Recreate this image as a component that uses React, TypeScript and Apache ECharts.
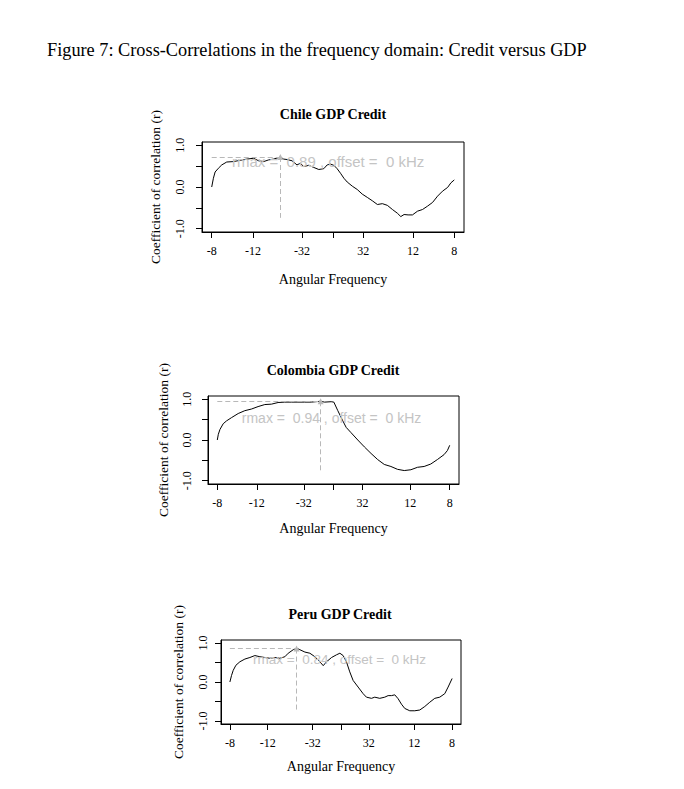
import React, { useEffect, useRef } from "react";
import * as echarts from "echarts";

// ---- tick labels ----
const xTickValues = [-1, -0.66, -0.255, 0, 0.25, 0.66, 1];
const xTickLabels = ["-8", "-12", "-32", "", "32", "12", "8"];
const yTickValues = [-1, -0.5, 0, 0.5, 1];
const yLabelValues = [-1, 0, 1];

// ---- panel titles / annotations ----
const panelTitles = ["Chile GDP Credit", "Colombia GDP Credit", "Peru GDP Credit"];
const rmaxValues = ["0.89", "0.94", "0.84"];
const peakX = [-0.434, -0.111, -0.4];
const peakY = [0.72, 0.95, 0.86];
const dropY = [-0.74, -0.77, -0.78];

// ---- series data ----
const chileX = [-1, -0.986, -0.972, -0.945, -0.917, -0.876, -0.821, -0.766, -0.71, -0.655, -0.614, -0.572, -0.531, -0.49, -0.434, -0.407, -0.379, -0.338, -0.297, -0.269, -0.241, -0.2, -0.159, -0.117, -0.076, -0.048, -0.021, 0.007, 0.034, 0.062, 0.09, 0.117, 0.159, 0.2, 0.241, 0.283, 0.324, 0.366, 0.407, 0.448, 0.49, 0.531, 0.559, 0.586, 0.619, 0.655, 0.697, 0.738, 0.779, 0.821, 0.862, 0.903, 0.945, 0.972, 1];
const chileY = [0, 0.21, 0.36, 0.45, 0.53, 0.6, 0.61, 0.64, 0.67, 0.69, 0.63, 0.61, 0.65, 0.67, 0.72, 0.67, 0.66, 0.63, 0.53, 0.57, 0.49, 0.52, 0.47, 0.42, 0.44, 0.53, 0.55, 0.52, 0.44, 0.33, 0.21, 0.12, 0.02, -0.06, -0.17, -0.25, -0.33, -0.42, -0.4, -0.44, -0.54, -0.63, -0.71, -0.66, -0.67, -0.67, -0.58, -0.54, -0.46, -0.37, -0.22, -0.1, -0.01, 0.1, 0.17];

const colombiaX = [-1, -0.991, -0.977, -0.949, -0.92, -0.877, -0.82, -0.763, -0.706, -0.649, -0.591, -0.534, -0.477, -0.42, -0.363, -0.306, -0.249, -0.191, -0.111, -0.077, -0.02, 0.003, 0.037, 0.08, 0.109, 0.151, 0.209, 0.266, 0.323, 0.38, 0.437, 0.494, 0.551, 0.609, 0.666, 0.723, 0.78, 0.837, 0.894, 0.951, 0.98, 1];
const colombiaY = [0, 0.14, 0.26, 0.4, 0.47, 0.55, 0.65, 0.72, 0.76, 0.82, 0.87, 0.88, 0.92, 0.93, 0.93, 0.93, 0.93, 0.93, 0.95, 0.93, 0.94, 0.93, 0.72, 0.47, 0.31, 0.18, 0, -0.17, -0.33, -0.48, -0.6, -0.65, -0.72, -0.75, -0.73, -0.67, -0.65, -0.59, -0.48, -0.36, -0.26, -0.13];

const peruX = [-1, -0.985, -0.97, -0.946, -0.91, -0.865, -0.82, -0.775, -0.73, -0.685, -0.64, -0.595, -0.55, -0.505, -0.475, -0.43, -0.4, -0.37, -0.325, -0.28, -0.235, -0.19, -0.16, -0.13, -0.085, -0.04, -0.01, 0.019, 0.049, 0.079, 0.109, 0.154, 0.199, 0.229, 0.274, 0.304, 0.349, 0.394, 0.424, 0.454, 0.484, 0.514, 0.544, 0.574, 0.619, 0.664, 0.709, 0.754, 0.799, 0.844, 0.889, 0.934, 0.964, 1];
const peruY = [0, 0.17, 0.3, 0.43, 0.52, 0.59, 0.63, 0.68, 0.65, 0.63, 0.61, 0.63, 0.61, 0.65, 0.74, 0.83, 0.87, 0.83, 0.77, 0.74, 0.65, 0.52, 0.42, 0.52, 0.63, 0.7, 0.74, 0.68, 0.52, 0.26, 0.04, -0.13, -0.3, -0.39, -0.42, -0.39, -0.42, -0.39, -0.35, -0.35, -0.33, -0.43, -0.57, -0.68, -0.74, -0.74, -0.72, -0.63, -0.52, -0.42, -0.39, -0.3, -0.13, 0.09];

const xsAll = [chileX, colombiaX, peruX];
const ysAll = [chileY, colombiaY, peruY];

// ---- layout (pixels / styles) ----
const gridBoxes = [
  { left: 202, top: 142, width: 262, height: 90 },
  { left: 208, top: 396, width: 251, height: 88 },
  { left: 221, top: 640, width: 240, height: 84 },
];
const titleCenters = [
  [333, 114],
  [333, 370],
  [340, 614],
];
const xNameGap = [40, 37, 35];
const yNameGap = [40, 38, 36];
const yLabelMargin = [16, 15, 12];
const annotFont = [15, 14, 13.5];
const annotPos = [
  [-0.04, 0.61],
  [-0.017, 0.55],
  [-0.013, 0.57],
];

const SERIF = "'Liberation Serif', 'Times New Roman', serif";
const SANS = "'Liberation Sans', Arial, sans-serif";
const GREY = "#b8b8b8";
const RANGE = 1.08;

function xLabel(v: number) {
  const i = xTickValues.findIndex((t) => Math.abs(t - v) < 1e-6);
  return i >= 0 ? xTickLabels[i] : "";
}

function buildOption() {
  const idx = [0, 1, 2];
  return {
    animation: false,
    backgroundColor: "#fff",
    graphic: [
      {
        type: "text",
        left: 47,
        top: 41,
        style: {
          text: "Figure 7: Cross-Correlations in the frequency domain: Credit versus GDP",
          font: `18.3px ${SERIF}`,
          fill: "#000",
        },
      },
      ...idx.map((i) => ({
        type: "text",
        x: titleCenters[i][0],
        y: titleCenters[i][1],
        style: {
          text: panelTitles[i],
          font: `bold 14px ${SERIF}`,
          fill: "#000",
          textAlign: "center",
          textVerticalAlign: "middle",
        },
      })),
    ],
    grid: idx.map((i) => ({
      ...gridBoxes[i],
      show: true,
      borderColor: "#000",
      borderWidth: 1,
      backgroundColor: "transparent",
      containLabel: false,
    })),
    xAxis: idx.map((i) => ({
      type: "value",
      gridIndex: i,
      min: -RANGE,
      max: RANGE,
      splitLine: { show: false },
      axisLine: { show: true, onZero: false, lineStyle: { color: "#000", width: 1 } },
      axisTick: {
        show: true,
        customValues: xTickValues,
        length: 6,
        lineStyle: { color: "#000", width: 1 },
      },
      axisLabel: {
        show: true,
        customValues: xTickValues.filter((_, k) => xTickLabels[k] !== ""),
        formatter: (v: number) => xLabel(v),
        margin: 13,
        fontFamily: SERIF,
        fontSize: 12,
        color: "#000",
      },
      name: "Angular Frequency",
      nameLocation: "middle",
      nameGap: xNameGap[i],
      nameTextStyle: { fontFamily: SERIF, fontSize: 14, color: "#000" },
    })),
    yAxis: idx.map((i) => ({
      type: "value",
      gridIndex: i,
      min: -RANGE,
      max: RANGE,
      splitLine: { show: false },
      axisLine: { show: true, onZero: false, lineStyle: { color: "#000", width: 1 } },
      axisTick: {
        show: true,
        customValues: yTickValues,
        length: 6,
        lineStyle: { color: "#000", width: 1 },
      },
      axisLabel: {
        show: true,
        customValues: yLabelValues,
        formatter: (v: number) => v.toFixed(1),
        rotate: 90,
        margin: yLabelMargin[i],
        fontFamily: SERIF,
        fontSize: 12,
        color: "#000",
      },
      name: "Coefficient of correlation (r)",
      nameLocation: "middle",
      nameGap: yNameGap[i],
      nameTextStyle: { fontFamily: SERIF, fontSize: 13.5, color: "#000" },
    })),
    series: idx.map((i) => ({
      type: "line",
      xAxisIndex: i,
      yAxisIndex: i,
      data: xsAll[i].map((x, j) => [x, ysAll[i][j]]),
      showSymbol: false,
      symbol: "none",
      silent: true,
      lineStyle: { color: "#000", width: 1 },
      markLine: {
        silent: true,
        symbol: ["none", "none"],
        label: { show: false },
        lineStyle: { type: [5, 3], color: GREY, width: 1 },
        data: [
          [{ coord: [-1, peakY[i]] }, { coord: [peakX[i], peakY[i]] }],
          [{ coord: [peakX[i], peakY[i]] }, { coord: [peakX[i], dropY[i]] }],
        ],
      },
      markPoint: {
        silent: true,
        data: [
          {
            coord: [peakX[i], peakY[i]],
            symbol: "triangle",
            symbolSize: 6,
            itemStyle: { color: GREY },
            label: { show: false },
          },
          {
            coord: annotPos[i],
            symbol: "circle",
            symbolSize: 1,
            itemStyle: { color: "rgba(0,0,0,0)" },
            label: {
              show: true,
              position: "inside",
              formatter: `rmax =  ${rmaxValues[i]} , offset =  0 kHz`,
              fontFamily: SANS,
              fontSize: annotFont[i],
              color: "#c4c4c4",
            },
          },
        ],
      },
    })),
  };
}

export default function App() {
  const ref = useRef<HTMLDivElement>(null);
  useEffect(() => {
    const chart = echarts.init(ref.current as HTMLDivElement, null, { renderer: "svg" });
    chart.setOption(buildOption() as any);
    return () => chart.dispose();
  }, []);
  return (
    <div
      ref={ref}
      style={{ position: "absolute", left: 0, top: 0, width: 684, height: 789 }}
    />
  );
}
